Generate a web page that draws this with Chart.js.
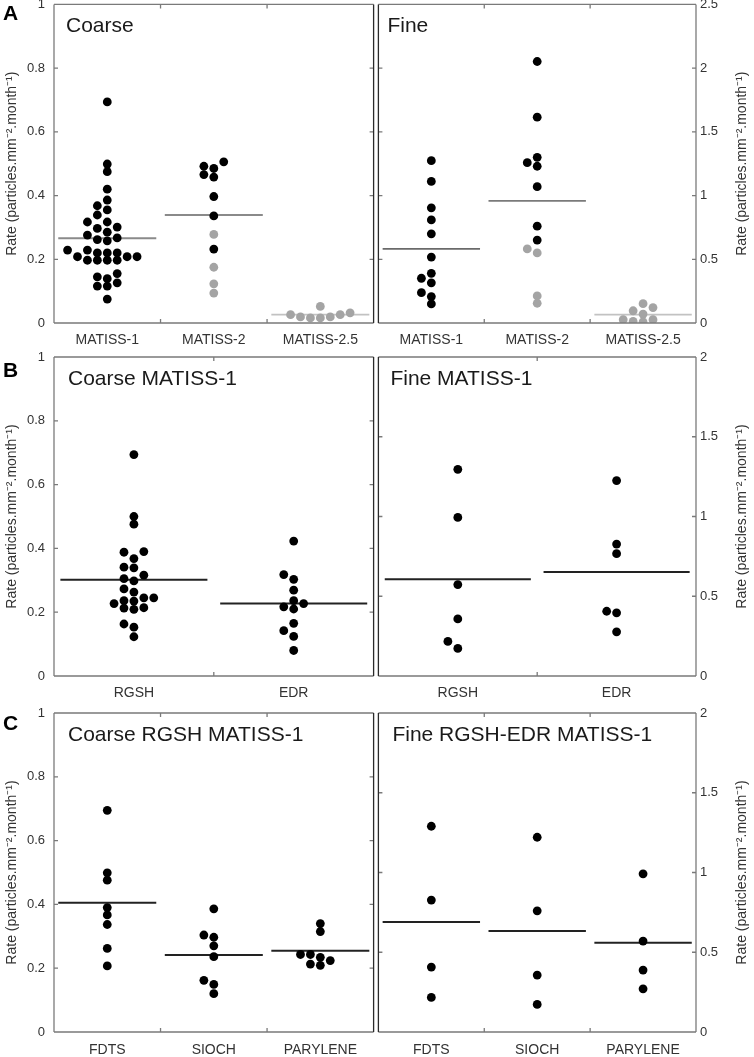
<!DOCTYPE html>
<html>
<head>
<meta charset="utf-8">
<script src="https://cdn.jsdelivr.net/npm/chart.js@4.4.1/dist/chart.umd.min.js"></script>
<style>
  body { margin: 0; background: #fff; }
  #wrap { position: relative; width: 754px; height: 1057px; overflow: hidden; font-family: "Liberation Sans", Arial, sans-serif; }
  canvas { position: absolute; }
  .lbl { position: absolute; font-weight: bold; font-size: 21px; line-height: 21px; color: #000; }
</style>
</head>
<body>
<div id="wrap">
  <canvas id="cA1" width="378" height="352" style="left:0;top:0"></canvas>
  <canvas id="cA2" width="380" height="352" style="left:374px;top:0"></canvas>
  <canvas id="cB1" width="378" height="350" style="left:0;top:350px"></canvas>
  <canvas id="cB2" width="380" height="350" style="left:374px;top:350px"></canvas>
  <canvas id="cC1" width="378" height="351" style="left:0;top:706px"></canvas>
  <canvas id="cC2" width="380" height="351" style="left:374px;top:706px"></canvas>
  <div class="lbl" style="left:3px;top:2px">A</div>
  <div class="lbl" style="left:3px;top:359px">B</div>
  <div class="lbl" style="left:3px;top:712px">C</div>
</div>
<script>
// ---- categories
const catsA = ["MATISS-1", "MATISS-2", "MATISS-2.5"];
const catsB = ["RGSH", "EDR"];
const catsC = ["FDTS", "SIOCH", "PARYLENE"];

// ---- tick labels
const yTicksCoarse = [0, 0.2, 0.4, 0.6, 0.8, 1];
const yTicksFineA = [0, 0.5, 1, 1.5, 2, 2.5];
const yTicksFine = [0, 0.5, 1, 1.5, 2];

// ---- A  Coarse (black = filled, gray = light dots)
const coarseA_black = [
  [0.694, 0.499, 0.475, 0.420, 0.386, 0.368, 0.355, 0.339, 0.317, 0.317, 0.301, 0.297,
   0.285, 0.276, 0.267, 0.262, 0.258, 0.229, 0.229, 0.220, 0.220, 0.220, 0.208, 0.208,
   0.208, 0.197, 0.197, 0.197, 0.197, 0.155, 0.145, 0.139, 0.126, 0.116, 0.116, 0.075],
  [0.506, 0.492, 0.485, 0.466, 0.458, 0.397, 0.336, 0.232],
  []
];
const coarseA_gray = [
  [],
  [0.278, 0.175, 0.123, 0.094],
  [0.052, 0.032, 0.026, 0.026, 0.019, 0.019, 0.016, 0.016]
];
const coarseA_mean = [0.266, 0.339, 0.026];

// ---- A  Fine
const fineA_black = [
  [1.274, 1.111, 0.904, 0.809, 0.700, 0.517, 0.390, 0.351, 0.315, 0.238, 0.207, 0.150],
  [2.052, 1.615, 1.300, 1.258, 1.230, 1.070, 0.760, 0.651],
  []
];
const fineA_gray = [
  [],
  [0.581, 0.550, 0.212, 0.155],
  [0.152, 0.121, 0.096, 0.070, 0.026, 0.026, 0.013, 0.008]
];
const fineA_mean = [0.581, 0.959, 0.065];

// ---- B  Coarse MATISS-1
const coarseB = [
  [0.694, 0.500, 0.476, 0.390, 0.388, 0.368, 0.341, 0.339, 0.316, 0.305, 0.298, 0.273,
   0.263, 0.245, 0.245, 0.236, 0.235, 0.227, 0.214, 0.213, 0.209, 0.163, 0.153, 0.123],
  [0.423, 0.318, 0.303, 0.269, 0.236, 0.227, 0.217, 0.210, 0.165, 0.142, 0.124, 0.080]
];
const coarseB_mean = [0.302, 0.227];

// ---- B  Fine MATISS-1
const fineB = [
  [1.296, 0.994, 0.573, 0.358, 0.217, 0.173],
  [1.225, 0.827, 0.767, 0.406, 0.396, 0.277]
];
const fineB_mean = [0.606, 0.652];

// ---- C  Coarse RGSH MATISS-1
const coarseC = [
  [0.695, 0.499, 0.476, 0.390, 0.367, 0.337, 0.262, 0.207],
  [0.386, 0.304, 0.297, 0.270, 0.236, 0.162, 0.149, 0.120],
  [0.340, 0.315, 0.243, 0.243, 0.234, 0.224, 0.213, 0.209]
];
const coarseC_mean = [0.405, 0.241, 0.255];

// ---- C  Fine RGSH-EDR MATISS-1
const fineC = [
  [1.290, 0.827, 0.407, 0.217],
  [1.221, 0.760, 0.357, 0.173],
  [0.992, 0.570, 0.388, 0.271]
];
const fineC_mean = [0.689, 0.633, 0.560];

const yTitle = "Rate (particles.mm\u207B\u00B2.month\u207B\u00B9)";
const FONT = '"Liberation Sans", Arial, sans-serif';
Chart.defaults.font.family = FONT;

// frame with inward ticks
const framePlugin = {
  id: "frame",
  afterDatasetsDraw(chart, args, o) {
    const { ctx, chartArea: a, scales: { x, y } } = chart;
    ctx.save();
    ctx.lineWidth = 1.3;
    ctx.strokeStyle = "#7a7a7a";
    ctx.beginPath();
    y.ticks.forEach(t => {
      const py = y.getPixelForValue(t.value);
      ctx.moveTo(a.left, py); ctx.lineTo(a.left + 4, py);
      ctx.moveTo(a.right, py); ctx.lineTo(a.right - 4, py);
    });
    for (let i = 1; i < o.n; i++) {
      const px = x.getPixelForValue(i);
      ctx.moveTo(px, a.top); ctx.lineTo(px, a.top + 4);
      ctx.moveTo(px, a.bottom); ctx.lineTo(px, a.bottom - 4);
    }
    ctx.moveTo(a.left, a.top); ctx.lineTo(a.right, a.top);
    ctx.moveTo(a.left, a.bottom); ctx.lineTo(a.right, a.bottom);
    ctx.stroke();
    const edges = { left: a.left, right: a.right };
    ["left", "right"].forEach(side => {
      ctx.beginPath();
      ctx.strokeStyle = o.dark === side ? "#2a2a2a" : "#7a7a7a";
      ctx.moveTo(edges[side], a.top); ctx.lineTo(edges[side], a.bottom);
      ctx.stroke();
    });
    ctx.restore();
  }
};

// panel heading and right-hand axis title
const panelText = {
  id: "panelText",
  afterDraw(chart, args, o) {
    const { ctx, chartArea: a } = chart;
    ctx.save();
    ctx.fillStyle = "#1a1a1a";
    ctx.font = "21px " + FONT;
    ctx.textBaseline = "alphabetic";
    ctx.fillText(o.title, a.left + o.dx, a.top + 28);
    if (o.sideTitle) {
      ctx.translate(a.right + 46, (a.top + a.bottom) / 2);
      ctx.rotate(-Math.PI / 2);
      ctx.font = "14px " + FONT;
      ctx.fillStyle = "#333";
      ctx.textAlign = "center";
      ctx.textBaseline = "middle";
      ctx.fillText(o.sideTitle, 0, 0);
    }
    ctx.restore();
  }
};

// gridded beeswarm: columns picked from pixel distances on the y scale
function swarmCols(pys, minDy) {
  const order = pys.map((p, i) => i).sort((a, b) => pys[b] - pys[a]);
  const cols = new Array(pys.length);
  const placed = [];
  order.forEach(i => {
    for (let k = 0; ; k++) {
      const c = k === 0 ? 0 : (k % 2 ? -(k + 1) / 2 : k / 2);
      if (!placed.some(p => p.c === c && Math.abs(p.py - pys[i]) < minDy)) {
        cols[i] = c; placed.push({ c, py: pys[i] }); break;
      }
    }
  });
  return cols;
}

function makePanel(id, cats, black, gray, means, yTicks, side, o) {
  const n = cats.length;
  const datasets = [
    { data: [], backgroundColor: "#000", pointRadius: 4.4, borderWidth: 0, pointHoverRadius: 4.4, order: 0 },
    { data: [], backgroundColor: "#a4a4a4", pointRadius: 4.4, borderWidth: 0, pointHoverRadius: 4.4, order: 0 }
  ];
  means.forEach((m, i) => {
    datasets.push({
      data: [{ x: i + 0.04, y: m }, { x: i + 0.96, y: m }],
      showLine: true, pointRadius: 0, borderColor: o.meanColors[i], borderWidth: o.meanWidth, order: 1
    });
  });
  const chart = new Chart(document.getElementById(id), {
    type: "scatter",
    data: { datasets },
    options: {
      responsive: false,
      animation: false,
      events: [],
      layout: { padding: { top: o.top, left: side === "left" ? 0 : 2, right: side === "left" ? 2 : 0, bottom: 0 } },
      plugins: {
        legend: { display: false },
        tooltip: { enabled: false },
        frame: { n, dark: side === "left" ? "right" : "left" },
        panelText: { title: o.title, dx: o.dx, sideTitle: side === "right" ? yTitle : null }
      },
      scales: {
        x: {
          type: "linear", min: 0, max: n,
          grid: { display: false, drawTicks: false },
          border: { display: false },
          afterBuildTicks: s => { s.ticks = cats.map((c, i) => ({ value: i + 0.5 })); },
          afterFit: s => { s.height = o.xh; s.paddingLeft = 0; s.paddingRight = 0; },
          ticks: { callback: (v, i) => cats[i], padding: o.xpad, color: "#333", font: { size: 14 }, maxRotation: 0, autoSkip: false }
        },
        y: {
          position: side, min: 0, max: yTicks[yTicks.length - 1],
          grid: { display: false, drawTicks: false },
          border: { display: false },
          afterBuildTicks: s => { s.ticks = yTicks.map(v => ({ value: v })); },
          afterFit: s => { s.width = side === "left" ? 54 : 58; s.paddingTop = 0; s.paddingBottom = 0; },
          ticks: { callback: v => String(v), padding: side === "left" ? 9 : 4, color: "#333", font: { size: 13 } },
          title: { display: side === "left", text: yTitle, color: "#333", font: { size: 14 }, padding: { top: 4, bottom: 0 } }
        }
      }
    },
    plugins: [framePlugin, panelText]
  });

  // place the dots now that the scales exist
  const xs = chart.scales.x, ys = chart.scales.y;
  const step = 10 / (xs.getPixelForValue(1) - xs.getPixelForValue(0));
  const bk = [], gr = [];
  cats.forEach((c, i) => {
    const b = black[i] || [], g = (gray && gray[i]) || [];
    const all = b.concat(g);
    const cols = swarmCols(all.map(v => ys.getPixelForValue(v)), 7.2);
    all.forEach((v, j) => (j < b.length ? bk : gr).push({ x: i + 0.5 + cols[j] * step, y: v }));
  });
  chart.data.datasets[0].data = bk;
  chart.data.datasets[1].data = gr;
  chart.update("none");
  return chart;
}

const lightA = "#c2c2c2";
makePanel("cA1", catsA, coarseA_black, coarseA_gray, coarseA_mean, yTicksCoarse, "left",
  { top: 4, xh: 29, xpad: 9, title: "Coarse", dx: 12, meanColors: ["#8a8a8a", "#8a8a8a", lightA], meanWidth: 1.8 });
makePanel("cA2", catsA, fineA_black, fineA_gray, fineA_mean, yTicksFineA, "right",
  { top: 4, xh: 29, xpad: 9, title: "Fine", dx: 9, meanColors: ["#6a6a6a", "#7a7a7a", lightA], meanWidth: 1.8 });
makePanel("cB1", catsB, coarseB, null, coarseB_mean, yTicksCoarse, "left",
  { top: 7, xh: 24, xpad: 9, title: "Coarse MATISS-1", dx: 14, meanColors: ["#222", "#222"], meanWidth: 2 });
makePanel("cB2", catsB, fineB, null, fineB_mean, yTicksFine, "right",
  { top: 7, xh: 24, xpad: 9, title: "Fine MATISS-1", dx: 12, meanColors: ["#222", "#222"], meanWidth: 2 });
makePanel("cC1", catsC, coarseC, null, coarseC_mean, yTicksCoarse, "left",
  { top: 7, xh: 25, xpad: 10, title: "Coarse RGSH MATISS-1", dx: 14, meanColors: ["#222", "#222", "#222"], meanWidth: 2 });
makePanel("cC2", catsC, fineC, null, fineC_mean, yTicksFine, "right",
  { top: 7, xh: 25, xpad: 10, title: "Fine RGSH-EDR MATISS-1", dx: 14, meanColors: ["#222", "#222", "#222"], meanWidth: 2 });
</script>
</body>
</html>
